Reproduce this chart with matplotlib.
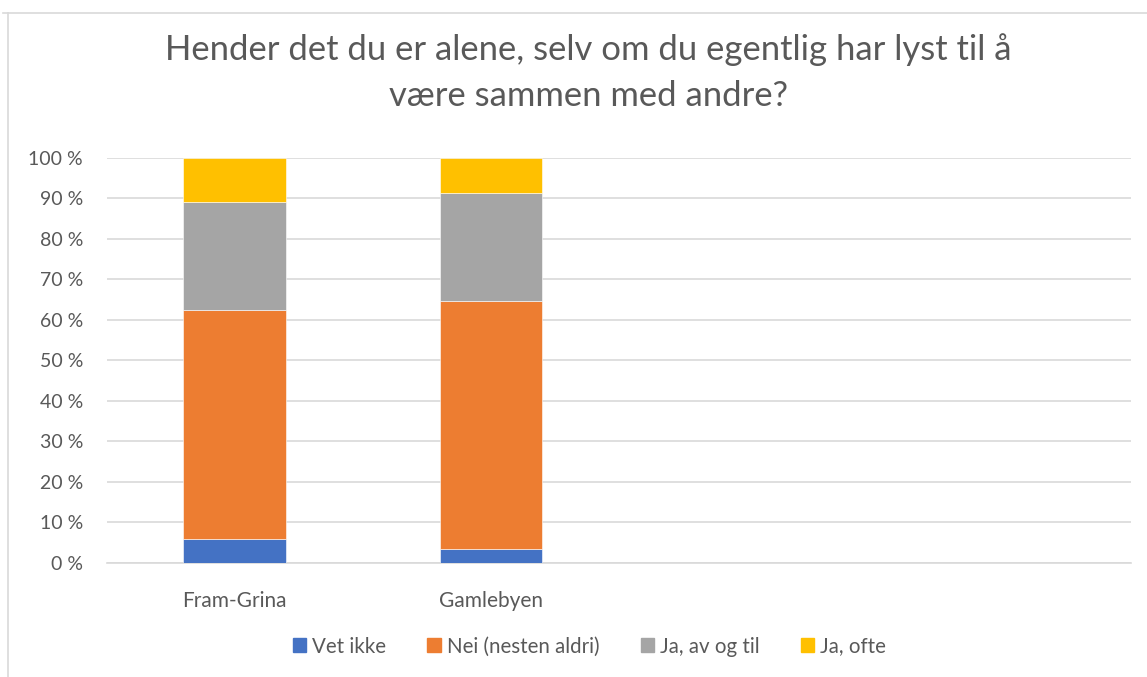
import matplotlib
matplotlib.use("Agg")
import matplotlib.pyplot as plt
import numpy as np
from matplotlib.lines import Line2D

categories = ["Fram-Grina", "Gamlebyen", "", ""]
series_names = ["Vet ikke", "Nei (nesten aldri)", "Ja, av og til", "Ja, ofte"]
vet_ikke = [5.8, 3.4, 0, 0]
nei = [56.5, 61.2, 0, 0]
ja_av_og_til = [26.8, 26.6, 0, 0]
ja_ofte = [10.9, 8.8, 0, 0]
colors = ["#4472C4", "#ED7D31", "#A5A5A5", "#FFC000"]
yticks = list(range(0, 101, 10))
title = "Hender det du er alene, selv om du egentlig har lyst til å\nvære sammen med andre?"

plt.rcParams['font.family'] = ['Lato', 'DejaVu Sans']

fig = plt.figure(figsize=(11.47, 6.77), dpi=100)
ax = fig.add_axes([0.093, 0.1688, 0.893, 0.5982])

x = np.arange(len(categories))
bottom = np.zeros(len(categories))
for name, vals, c in zip(series_names, [vet_ikke, nei, ja_av_og_til, ja_ofte], colors):
    vals = np.array(vals, dtype=float)
    ax.bar(x, vals, 0.4, bottom=bottom, color=c, label=name, zorder=3,
           edgecolor='white', linewidth=0.4)
    bottom += vals

ax.set_xlim(-0.5, len(categories) - 0.5)
ax.set_ylim(0, 100)
ax.set_yticks(yticks)
ax.set_yticklabels([f"{v} %" for v in yticks])
ax.set_xticks(x)
ax.set_xticklabels(categories)
ax.tick_params(axis='y', length=0, labelsize=14, colors='#595959', pad=17)
ax.tick_params(axis='x', length=0, labelsize=15, colors='#595959', pad=20)
ax.grid(axis='y', color='#d9d9d9', linewidth=1.2, zorder=0)
for s in ['top', 'right', 'left']:
    ax.spines[s].set_visible(False)
ax.spines['bottom'].set_color('#d9d9d9')
ax.spines['bottom'].set_linewidth(1.2)

fig.text(0.513, 0.951, title, ha='center', va='top', fontsize=24.9,
         color='#595959', linespacing=1.55)

handles = [plt.Rectangle((0, 0), 1, 1, color=c) for c in colors]
fig.legend(handles, series_names, loc='center', bbox_to_anchor=(0.514, 0.045),
           ncol=4, frameon=False, fontsize=14.8, labelcolor='#595959',
           handlelength=0.65, handleheight=0.65, handletextpad=0.3, columnspacing=2.0)

# chart border (partially cropped)
fig.add_artist(Line2D([8/1147, 8/1147], [0, 1 - 13/677], transform=fig.transFigure,
                      color='#d9d9d9', linewidth=1.2))
fig.add_artist(Line2D([3/1147, 1], [1 - 13/677, 1 - 13/677], transform=fig.transFigure,
                      color='#d9d9d9', linewidth=1.2))

fig.savefig("out.png", dpi=100)
